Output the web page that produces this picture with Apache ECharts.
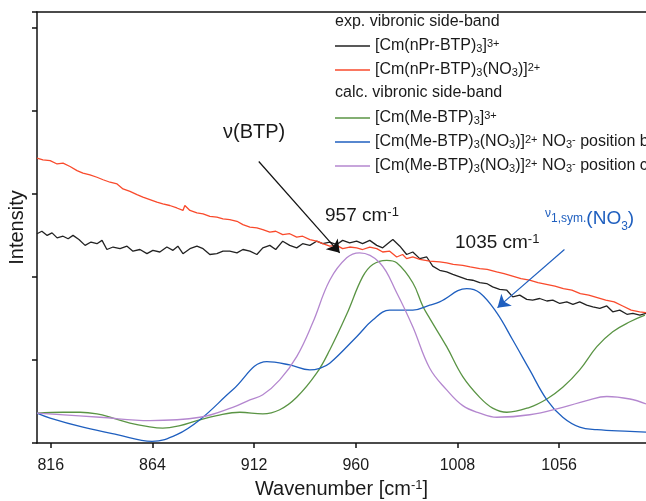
<!DOCTYPE html>
<html lang="en">
<head>
<meta charset="UTF-8">
<title>Vibronic side-band</title>
<script src="https://cdn.jsdelivr.net/npm/echarts@6/dist/echarts.min.js"></script>
<style>
  html, body { margin: 0; padding: 0; background: #fff; }
  #main { width: 646px; height: 501px; }
</style>
</head>
<body>
<div id="main"></div>
<script>
// x axis tick labels
var xTicks = [816, 864, 912, 960, 1008, 1056];

// exp. [Cm(nPr-BTP)3]3+
var expBTP = [
  [809.5,2.52],[811.8,2.55],[814.3,2.50],[816.6,2.53],[819,2.47],[821.8,2.49],[824.2,2.46],[826.5,2.50],
  [829.3,2.45],[832.2,2.38],[835,2.42],[837.8,2.40],[840.2,2.44],[842.5,2.33],[845.4,2.36],[848.7,2.34],
  [852,2.37],[854.8,2.31],[858.1,2.33],[861.4,2.28],[864.2,2.32],[867.5,2.30],[870.8,2.36],[873.7,2.32],
  [876,2.37],[878.4,2.28],[881.7,2.34],[885,2.37],[887.9,2.34],[891.1,2.27],[894.4,2.28],[897.3,2.31],
  [900.5,2.31],[903.9,2.29],[906.7,2.33],[910,2.31],[913.3,2.27],[916.1,2.35],[919.4,2.38],[922.2,2.33],
  [925.5,2.43],[928.8,2.38],[932.1,2.35],[934.9,2.40],[938.3,2.38],[941.5,2.43],[944.4,2.40],[947.7,2.42],
  [951,2.39],[953.8,2.44],[957.1,2.41],[960.4,2.43],[963.2,2.40],[966.6,2.44],[969.9,2.38],[972.7,2.35],
  [976,2.42],[977.5,2.45],[980.8,2.37],[984,2.27],[986.9,2.30],[990.2,2.22],[993.5,2.24],[996.3,2.13],
  [999.6,2.08],[1002.9,2.06],[1005.8,2.03],[1009.1,2.00],[1012.4,1.97],[1015.2,1.96],[1018.5,1.93],
  [1021.8,1.92],[1024.6,1.88],[1027.9,1.85],[1031.3,1.84],[1034.1,1.76],[1037.4,1.78],[1040.7,1.73],
  [1043.5,1.72],[1046.8,1.74],[1050.2,1.71],[1053,1.72],[1056.3,1.68],[1059.6,1.70],[1062.5,1.67],
  [1065.7,1.70],[1069,1.66],[1071.9,1.64],[1075.2,1.62],[1078.5,1.65],[1081.3,1.58],[1084.6,1.60],
  [1088,1.55],[1090.8,1.56],[1094.1,1.54],[1097,1.56]
];

// exp. [Cm(nPr-BTP)3(NO3)]2+
var expNO3 = [
  [809.5,3.43],[812.3,3.41],[815.7,3.40],[819,3.36],[821.8,3.37],[825.1,3.33],[828.4,3.28],[831.2,3.25],
  [834.5,3.23],[837.8,3.20],[840.7,3.17],[844,3.14],[847.3,3.12],[850.1,3.06],[853.4,3.03],[856.7,2.99],
  [859.5,2.96],[862.8,2.93],[866.1,2.90],[868.9,2.88],[872.2,2.86],[875.5,2.83],[878.4,2.80],[879.3,2.86],
  [881.7,2.80],[885,2.77],[887.9,2.76],[891.1,2.73],[894.4,2.72],[897.3,2.70],[900.5,2.69],[903.9,2.67],
  [906.7,2.63],[910,2.60],[913.3,2.59],[916.1,2.57],[919.4,2.54],[922.2,2.55],[925.5,2.51],[928.8,2.52],
  [932.1,2.48],[934.9,2.49],[938.3,2.45],[941.5,2.43],[944.4,2.40],[947.7,2.37],[951,2.38],[953.8,2.34],
  [957.1,2.36],[960.4,2.35],[963.2,2.33],[966.6,2.36],[969.9,2.34],[972.7,2.30],[976,2.31],[979.3,2.24],
  [982.1,2.27],[984,2.22],[986.9,2.24],[990.2,2.21],[994.9,2.19],[999.6,2.18],[1002.9,2.17],[1006,2.15],
  [1010.5,2.14],[1014,2.12],[1018.5,2.10],[1022,2.09],[1026.5,2.06],[1030,2.04],[1034,2.01],[1038,1.98],
  [1042,1.96],[1046,1.93],[1050,1.91],[1054,1.89],[1058,1.86],[1062,1.84],[1066,1.80],[1070,1.78],
  [1074,1.75],[1078,1.72],[1082,1.70],[1086,1.65],[1090,1.60],[1094,1.58],[1097,1.57]
];

// calc. [Cm(Me-BTP)3]3+
var calcBTP = [
  [809.5,0.36],[821.8,0.37],[829.8,0.37],[837.8,0.35],[845.4,0.30],[853.4,0.24],[861.4,0.20],[868.9,0.18],
  [877,0.21],[885,0.27],[894.4,0.33],[905.3,0.37],[916.1,0.35],[924.1,0.40],[932.1,0.55],[941.5,0.84],
  [947.7,1.12],[955.7,1.55],[963.2,2.00],[968,2.15],[974.6,2.20],[979.3,2.17],[986.9,1.93],[991.6,1.65],
  [994.9,1.50],[1002.9,1.16],[1010.5,0.80],[1018.5,0.55],[1024.6,0.42],[1031.3,0.37],[1042.1,0.43],
  [1050.2,0.53],[1057.7,0.67],[1065.7,0.88],[1073.8,1.16],[1081.3,1.34],[1089.4,1.46],[1096.5,1.54]
];

// calc. [Cm(Me-BTP)3(NO3)]2+ NO3- position b
var calcB = [
  [809.5,0.36],[815.7,0.30],[831.2,0.19],[847.3,0.10],[863.8,0.02],[875.5,0.10],[886.4,0.28],[901.9,0.64],
  [918,0.98],[928.8,0.94],[938.3,0.88],[943,0.90],[947.7,0.96],[960.4,1.28],[968,1.48],[976,1.60],
  [986.9,1.60],[994.9,1.66],[999.6,1.70],[1012.4,1.86],[1018.5,1.81],[1026.5,1.57],[1034.1,1.24],
  [1042.1,0.88],[1050.2,0.52],[1057.7,0.31],[1065.7,0.19],[1073.8,0.16],[1089.4,0.14],[1097,0.13]
];

// calc. [Cm(Me-BTP)3(NO3)]2+ NO3- position c
var calcC = [
  [809.5,0.36],[839.2,0.31],[862.8,0.27],[886.4,0.31],[901.9,0.43],[910,0.52],[916.1,0.58],[924.1,0.76],
  [932.1,1.04],[939.7,1.45],[947.7,1.96],[955.7,2.23],[961.8,2.29],[971.3,2.17],[979.3,1.81],[986.9,1.40],
  [994.9,0.90],[1002.9,0.64],[1010.5,0.45],[1018.5,0.36],[1026.5,0.31],[1042.1,0.34],[1057.7,0.43],
  [1069,0.51],[1078.5,0.56],[1089.4,0.53],[1097,0.47]
];

var FONT = 'Liberation Sans, Arial, sans-serif';
var TXT = '#1a1a1a';
var BLUE = '#1f5fbf';

function richSet(size) {
  return {
    sup: { fontSize: Math.round(size * 0.66), fontFamily: FONT, color: TXT, verticalAlign: 'top', lineHeight: Math.round(size * 0.6) },
    sub: { fontSize: Math.round(size * 0.66), fontFamily: FONT, color: TXT, verticalAlign: 'bottom', lineHeight: Math.round(size * 0.6) }
  };
}

var legendNames = {
  'exp1': '[Cm(nPr-BTP){sub|3}]{sup|3+}',
  'exp2': '[Cm(nPr-BTP){sub|3}(NO{sub|3})]{sup|2+}',
  'calc1': '[Cm(Me-BTP){sub|3}]{sup|3+}',
  'calc2': '[Cm(Me-BTP){sub|3}(NO{sub|3})]{sup|2+} NO{sub|3}{sup|-} position b',
  'calc3': '[Cm(Me-BTP){sub|3}(NO{sub|3})]{sup|2+} NO{sub|3}{sup|-} position c'
};

var legendBase = {
  orient: 'vertical',
  left: 335,
  padding: 0,
  icon: 'rect',
  itemWidth: 35,
  itemHeight: 1.3,
  itemGap: 8,
  formatter: function (n) { return legendNames[n]; },
  textStyle: { fontSize: 16, lineHeight: 16, fontFamily: FONT, color: TXT, rich: richSet(16) }
};

var myChart = echarts.init(document.getElementById('main'));

var option = {
  animation: false,
  grid: { left: 37, top: 12, right: 0, bottom: 58, containLabel: false, outerBoundsMode: 'none' },
  xAxis: [{
    type: 'value',
    min: 809.5,
    max: 1097,
    name: 'Wavenumber [cm{sup|-1}]',
    nameLocation: 'middle',
    nameGap: 36,
    nameTextStyle: { fontSize: 20, fontFamily: FONT, color: TXT, rich: richSet(20) },
    axisLine: { lineStyle: { color: '#111', width: 1.5 } },
    axisTick: { show: true, length: 5, customValues: xTicks, lineStyle: { color: '#111', width: 1.5 } },
    axisLabel: {
      customValues: xTicks, fontSize: 16, fontFamily: FONT, color: TXT, margin: 15,
      formatter: function (v) { return String(Math.round(v)); }
    },
    splitLine: { show: false }
  }, {
    type: 'value',
    position: 'top',
    min: 809.5,
    max: 1097,
    axisLine: { show: true, lineStyle: { color: '#111', width: 1.5 } },
    axisTick: { show: false },
    axisLabel: { show: false },
    splitLine: { show: false }
  }],
  yAxis: {
    type: 'value',
    min: 0,
    max: 5.19,
    interval: 1,
    name: 'Intensity',
    nameLocation: 'middle',
    nameGap: 10,
    nameTextStyle: { fontSize: 20, fontFamily: FONT, color: TXT },
    axisLine: { show: true, lineStyle: { color: '#111', width: 1.5 } },
    axisTick: { show: true, length: 5, lineStyle: { color: '#111', width: 1.5 } },
    axisLabel: { show: false },
    splitLine: { show: false }
  },
  legend: [
    Object.assign({}, legendBase, { data: ['exp1', 'exp2'], top: 38 }),
    Object.assign({}, legendBase, { data: ['calc1', 'calc2', 'calc3'], top: 110 })
  ],
  graphic: [
    { type: 'text', left: 335, top: 14, style: { text: 'exp. vibronic side-band', fontSize: 16, fontFamily: FONT, fill: TXT } },
    { type: 'text', left: 335, top: 85, style: { text: 'calc. vibronic side-band', fontSize: 16, fontFamily: FONT, fill: TXT } },
    { type: 'text', left: 223, top: 122, style: { text: 'ν(BTP)', fontSize: 20, fontFamily: FONT, fill: TXT } },
    { type: 'text', left: 325, top: 206, style: { text: '957 cm{sup|-1}', fontSize: 19, fontFamily: FONT, fill: TXT,
      rich: { sup: { fontSize: 13, fontFamily: FONT, fill: TXT, verticalAlign: 'top', lineHeight: 11 } } } },
    { type: 'text', left: 455, top: 233, style: { text: '1035 cm{sup|-1}', fontSize: 19, fontFamily: FONT, fill: TXT,
      rich: { sup: { fontSize: 13, fontFamily: FONT, fill: TXT, verticalAlign: 'top', lineHeight: 11 } } } },
    { type: 'text', left: 545, top: 205, style: {
      text: '{s|ν}{b|1,sym.}{m|(NO}{c|3}{m|)}', fill: BLUE, fontFamily: FONT,
      rich: {
        s: { fontSize: 12, fontFamily: FONT, fill: BLUE, verticalAlign: 'top', lineHeight: 20, padding: [3, 0, 0, 0] },
        b: { fontSize: 12, fontFamily: FONT, fill: BLUE, verticalAlign: 'top', lineHeight: 20, padding: [8, 0, 0, 0] },
        m: { fontSize: 19, fontFamily: FONT, fill: BLUE, lineHeight: 28 },
        c: { fontSize: 12, fontFamily: FONT, fill: BLUE, verticalAlign: 'bottom', lineHeight: 14 }
      } } }
  ],
  series: [{
    name: 'exp1', type: 'line', data: expBTP, symbol: 'none',
    lineStyle: { color: '#222222', width: 1.3 }, itemStyle: { color: '#222222' },
    markLine: {
      silent: true, symbol: ['none', 'arrow'], symbolSize: 12, label: { show: false },
      data: [[{ coord: [914.2, 3.39], lineStyle: { color: '#111', width: 1.2, type: 'solid' } }, { coord: [952.4, 2.29] }]]
    }
  }, {
    name: 'exp2', type: 'line', data: expNO3, symbol: 'none',
    lineStyle: { color: '#f94a2c', width: 1.3 }, itemStyle: { color: '#f94a2c' }
  }, {
    name: 'calc1', type: 'line', data: calcBTP, symbol: 'none', smooth: 0.4,
    lineStyle: { color: '#5a9444', width: 1.3 }, itemStyle: { color: '#5a9444' }
  }, {
    name: 'calc2', type: 'line', data: calcB, symbol: 'none', smooth: 0.4,
    lineStyle: { color: BLUE, width: 1.3 }, itemStyle: { color: BLUE },
    markLine: {
      silent: true, symbol: ['none', 'arrow'], symbolSize: 12, label: { show: false },
      data: [[{ coord: [1058.5, 2.33], lineStyle: { color: BLUE, width: 1.2, type: 'solid' } }, { coord: [1026.9, 1.63] }]]
    }
  }, {
    name: 'calc3', type: 'line', data: calcC, symbol: 'none', smooth: 0.4,
    lineStyle: { color: '#b487cf', width: 1.3 }, itemStyle: { color: '#b487cf' }
  }]
};

myChart.setOption(option);
</script>
</body>
</html>
